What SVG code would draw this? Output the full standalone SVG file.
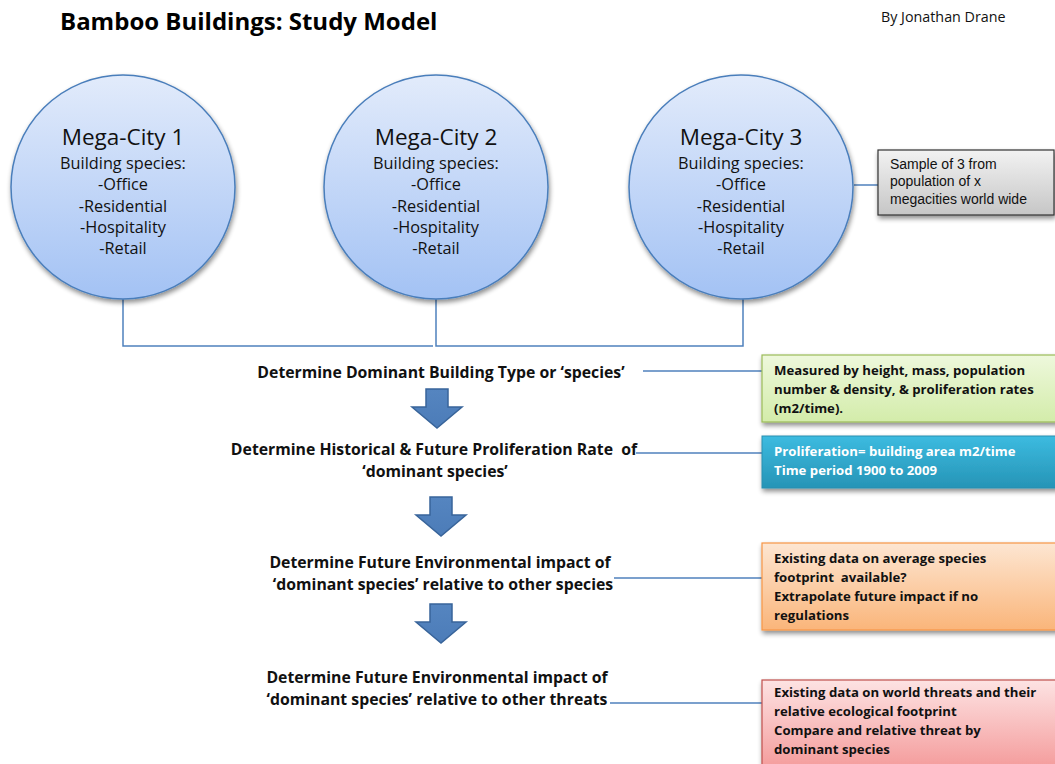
<svg xmlns="http://www.w3.org/2000/svg" width="1055" height="764" viewBox="0 0 1055 764">
  <style>
    .title { font-family: "Open Sans", "Liberation Sans", sans-serif; font-weight: bold; font-size: 24px; fill: #000; }
    .author { font-family: "Open Sans", "Liberation Sans", sans-serif; font-size: 14.3px; fill: #111; }
    .city { font-family: "Open Sans", "Liberation Sans", sans-serif; font-size: 22.5px; fill: #111; text-anchor: middle; }
    .cityl { font-family: "Open Sans", "Liberation Sans", sans-serif; font-size: 16.3px; fill: #111; text-anchor: middle; }
    .step { font-family: "Open Sans", "Liberation Sans", sans-serif; font-weight: bold; font-size: 15.8px; fill: #111; text-anchor: middle; }
    .note { font-family: "Open Sans", "Liberation Sans", sans-serif; font-weight: bold; font-size: 13.2px; fill: #111; }
    .notew { font-family: "Open Sans", "Liberation Sans", sans-serif; font-weight: bold; font-size: 13.2px; fill: #fff; }
    .sample { font-family: "Liberation Sans", Arial, sans-serif; font-size: 14px; fill: #111; }
    .pre { white-space: pre; }
    .link { fill: none; stroke: #4f81bd; stroke-width: 1.5; }
    .circle { fill: url(#gCircle); stroke: #4a7ebb; stroke-width: 1.5; filter: url(#shadow); }
    .arrow { fill: url(#gArrow); stroke: #38649a; stroke-width: 1.5; stroke-linejoin: miter; }
  </style>
  <defs>
    <linearGradient id="gCircle" x1="0" y1="0" x2="0" y2="1">
      <stop offset="0" stop-color="#e2ebfb"/>
      <stop offset="1" stop-color="#a3c2f4"/>
    </linearGradient>
    <linearGradient id="gArrow" x1="0" y1="0" x2="0" y2="1">
      <stop offset="0" stop-color="#5585c0"/>
      <stop offset="1" stop-color="#4c7cb8"/>
    </linearGradient>
    <linearGradient id="gGray" x1="0" y1="0" x2="0" y2="1">
      <stop offset="0" stop-color="#f2f2f2"/>
      <stop offset="1" stop-color="#c6c6c6"/>
    </linearGradient>
    <linearGradient id="gGreen" x1="0" y1="0" x2="0" y2="1">
      <stop offset="0" stop-color="#eef8dc"/>
      <stop offset="1" stop-color="#d3ecaa"/>
    </linearGradient>
    <linearGradient id="gBlue" x1="0" y1="0" x2="0" y2="1">
      <stop offset="0" stop-color="#3cbbe0"/>
      <stop offset="1" stop-color="#2694b6"/>
    </linearGradient>
    <linearGradient id="gOrange" x1="0" y1="0" x2="0" y2="1">
      <stop offset="0" stop-color="#fde6d2"/>
      <stop offset="1" stop-color="#fab57a"/>
    </linearGradient>
    <linearGradient id="gRed" x1="0" y1="0" x2="0" y2="1">
      <stop offset="0" stop-color="#fde3e3"/>
      <stop offset="1" stop-color="#f49a9a"/>
    </linearGradient>
    <filter id="shadow" x="-10%" y="-10%" width="125%" height="130%">
      <feGaussianBlur in="SourceAlpha" stdDeviation="2.5"/>
      <feOffset dx="1" dy="3" result="b"/>
      <feComponentTransfer><feFuncA type="linear" slope="0.45"/></feComponentTransfer>
      <feMerge><feMergeNode/><feMergeNode in="SourceGraphic"/></feMerge>
    </filter>
  </defs>

  <rect width="1055" height="764" fill="#fff"/>

  <g id="header">
    <text class="title" x="60" y="30">Bamboo Buildings: Study Model</text>
    <text class="author" x="881" y="22">By Jonathan Drane</text>
  </g>

  <!-- connectors -->
  <g id="connectors">
    <polyline class="link" points="123,299 123,346 433,346"/>
    <polyline class="link" points="436,299 436,346 743,346 743,299"/>
    <line class="link" x1="854" y1="185" x2="878" y2="185"/>
    <line class="link" x1="643" y1="371" x2="762" y2="371"/>
    <line class="link" x1="636" y1="453" x2="762" y2="453"/>
    <line class="link" x1="614" y1="578" x2="762" y2="578"/>
    <line class="link" x1="610" y1="703" x2="762" y2="703"/>
  </g>

  <g id="city1">
    <circle class="circle" cx="123" cy="187" r="112"/>
    <text class="city" x="123" y="145">Mega-City 1</text>
    <text class="cityl" x="123" y="169">Building species:</text>
    <text class="cityl" x="123" y="190">-Office</text>
    <text class="cityl" x="123" y="212">-Residential</text>
    <text class="cityl" x="123" y="233">-Hospitality</text>
    <text class="cityl" x="123" y="254">-Retail</text>
  </g>
  <g id="city2">
    <circle class="circle" cx="436" cy="187" r="112"/>
    <text class="city" x="436" y="145">Mega-City 2</text>
    <text class="cityl" x="436" y="169">Building species:</text>
    <text class="cityl" x="436" y="190">-Office</text>
    <text class="cityl" x="436" y="212">-Residential</text>
    <text class="cityl" x="436" y="233">-Hospitality</text>
    <text class="cityl" x="436" y="254">-Retail</text>
  </g>
  <g id="city3">
    <circle class="circle" cx="741" cy="187" r="112"/>
    <text class="city" x="741" y="145">Mega-City 3</text>
    <text class="cityl" x="741" y="169">Building species:</text>
    <text class="cityl" x="741" y="190">-Office</text>
    <text class="cityl" x="741" y="212">-Residential</text>
    <text class="cityl" x="741" y="233">-Hospitality</text>
    <text class="cityl" x="741" y="254">-Retail</text>
  </g>

  <g id="sample-note">
    <rect x="878" y="150" width="176" height="65" fill="url(#gGray)" stroke="#333" stroke-width="1.2" filter="url(#shadow)"/>
    <text class="sample" x="890" y="169">Sample of 3 from</text>
    <text class="sample" x="890" y="186">population of x</text>
    <text class="sample" x="890" y="204">megacities world wide</text>
  </g>

  <g id="step1">
    <text class="step" x="441" y="378">Determine Dominant Building Type or ‘species’</text>
  </g>
  <g id="arrow1">
    <path class="arrow" d="M426,389 H448 V407 H462 L437,428 L412,407 H426 Z"/>
  </g>
  <g id="step2">
    <text class="step pre" x="434" y="455">Determine Historical &amp; Future Proliferation Rate  of</text>
    <text class="step" x="435" y="477">‘dominant species’</text>
  </g>
  <g id="arrow2">
    <path class="arrow" d="M430,497 H452 V515 H466 L441,536 L416,515 H430 Z"/>
  </g>
  <g id="step3">
    <text class="step" x="440" y="568">Determine Future Environmental impact of</text>
    <text class="step" x="443" y="590">‘dominant species’ relative to other species</text>
  </g>
  <g id="arrow3">
    <path class="arrow" d="M430,604 H452 V622 H466 L441,643 L416,622 H430 Z"/>
  </g>
  <g id="step4">
    <text class="step" x="437" y="683">Determine Future Environmental impact of</text>
    <text class="step" x="437" y="705">‘dominant species’ relative to other threats</text>
  </g>

  <g id="note-measure">
    <rect x="762" y="355" width="300" height="67" fill="url(#gGreen)" stroke="#9bbb59" stroke-width="1.2" filter="url(#shadow)"/>
    <text class="note" x="774" y="375">Measured by height, mass, population</text>
    <text class="note" x="774" y="394">number &amp; density, &amp; proliferation rates</text>
    <text class="note" x="774" y="413">(m2/time).</text>
  </g>
  <g id="note-proliferation">
    <rect x="762" y="436" width="300" height="52" fill="url(#gBlue)" stroke="#2a8fb0" stroke-width="1" filter="url(#shadow)"/>
    <text class="notew" x="774" y="456">Proliferation= building area m2/time</text>
    <text class="notew" x="774" y="475">Time period 1900 to 2009</text>
  </g>
  <g id="note-footprint">
    <rect x="762" y="543" width="300" height="87" fill="url(#gOrange)" stroke="#f79646" stroke-width="1.2" filter="url(#shadow)"/>
    <text class="note" x="774" y="563">Existing data on average species</text>
    <text class="note pre" x="774" y="582">footprint  available?</text>
    <text class="note" x="774" y="601">Extrapolate future impact if no</text>
    <text class="note" x="774" y="620">regulations</text>
  </g>
  <g id="note-threats">
    <rect x="762" y="680" width="300" height="90" fill="url(#gRed)" stroke="#c0504d" stroke-width="1.2" filter="url(#shadow)"/>
    <text class="note" x="774" y="697">Existing data on world threats and their</text>
    <text class="note" x="774" y="716">relative ecological footprint</text>
    <text class="note" x="774" y="735">Compare and relative threat by</text>
    <text class="note" x="774" y="754">dominant species</text>
  </g>
</svg>
